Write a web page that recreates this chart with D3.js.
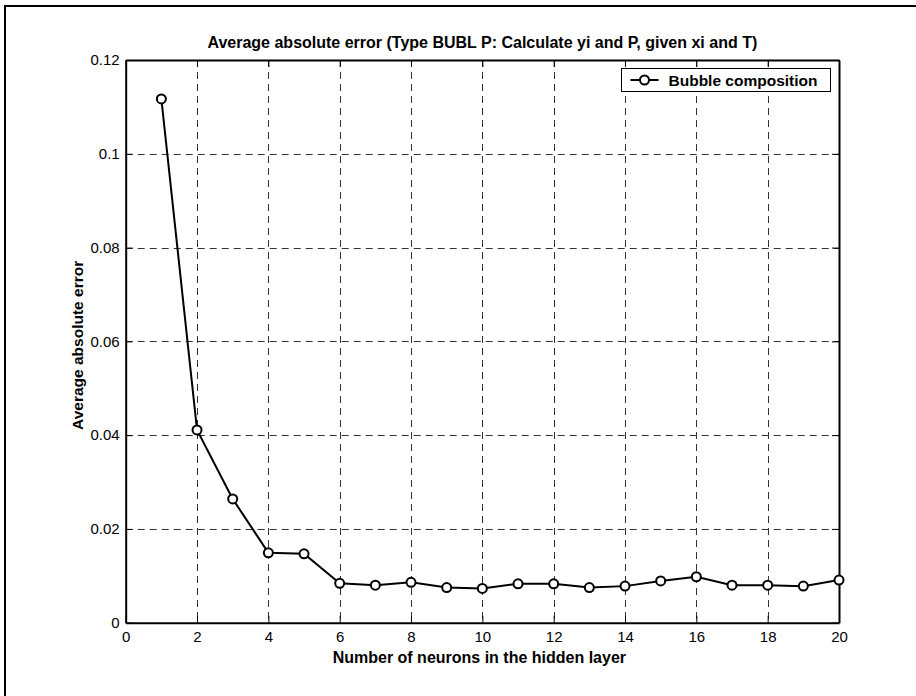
<!DOCTYPE html>
<html lang="en">
<head>
<meta charset="UTF-8">
<title>Average absolute error</title>
<script src="https://cdn.jsdelivr.net/npm/d3@7"></script>
<style>
  body { margin: 0; background: #fff; }
  svg text { font-family: "Liberation Sans", Arial, sans-serif; fill: #000; }
</style>
</head>
<body>
<div id="container"></div>
<script>
// neurons in hidden layer and the measured average absolute error
const neurons = [1, 2, 3, 4, 5, 6, 7, 8, 9, 10, 11, 12, 13, 14, 15, 16, 17, 18, 19, 20]
const avgError = [0.1117, 0.0411, 0.0264, 0.0149, 0.0147, 0.0084, 0.0080, 0.0086, 0.0075, 0.0073,
                  0.0083, 0.0083, 0.0075, 0.0078, 0.0089, 0.0098, 0.0080, 0.0080, 0.0078, 0.0091]
const xTicks = [0, 2, 4, 6, 8, 10, 12, 14, 16, 18, 20]
const yTicks = [0, 0.02, 0.04, 0.06, 0.08, 0.1, 0.12]
const seriesName = "Bubble composition"

const w = 916, h = 696
const m = { left: 125.7, right: 916 - 839, top: 60, bottom: 696 - 622.7 }

const svg = d3.select("#container").append("svg").attr("width", w).attr("height", h)

// outer frame (only left and top edges are inside the picture)
svg.append("path").attr("d", `M5,${h} V6 H${w}`).attr("fill", "none").attr("stroke", "#000").attr("stroke-width", 2)

const x = d3.scaleLinear([0, 20], [m.left, w - m.right])
const y = d3.scaleLinear([0, 0.12], [h - m.bottom, m.top])

// grid
const grid = svg.append("g").attr("stroke", "#333").attr("stroke-width", 1).attr("stroke-dasharray", "7,5")
grid.selectAll(".gx").data(xTicks.slice(1, -1)).join("line")
  .attr("x1", d => Math.round(x(d)) + 0.5).attr("x2", d => Math.round(x(d)) + 0.5)
  .attr("y1", y(0.12)).attr("y2", y(0))
grid.selectAll(".gy").data(yTicks.slice(1, -1)).join("line")
  .attr("y1", d => Math.round(y(d)) + 0.5).attr("y2", d => Math.round(y(d)) + 0.5)
  .attr("x1", x(0)).attr("x2", x(20))

// axes, MATLAB style: ticks pointing inward, box on
const tick = 7
const fmt = d => d === 0 ? "0" : String(d)
const xAx = svg.append("g").attr("transform", `translate(0,${y(0)})`)
  .call(d3.axisBottom(x).tickValues(xTicks).tickSizeInner(-tick).tickSizeOuter(0).tickPadding(9).tickFormat(fmt))
const yAx = svg.append("g").attr("transform", `translate(${x(0)},0)`)
  .call(d3.axisLeft(y).tickValues(yTicks).tickSizeInner(-tick).tickSizeOuter(0).tickPadding(6).tickFormat(fmt))
const xTop = svg.append("g").attr("transform", `translate(0,${y(0.12)})`)
  .call(d3.axisTop(x).tickValues(xTicks).tickSizeInner(-tick).tickSizeOuter(0).tickFormat(""))
const yRight = svg.append("g").attr("transform", `translate(${x(20)},0)`)
  .call(d3.axisRight(y).tickValues(yTicks).tickSizeInner(-tick).tickSizeOuter(0).tickFormat(""))
for (const a of [xAx, yAx, xTop, yRight]) {
  a.select(".domain").attr("stroke", "#000").attr("stroke-width", 2).attr("fill", "none")
  a.selectAll(".tick line").attr("stroke", "#000").attr("stroke-width", 1)
  a.selectAll(".tick text").attr("font-size", 15).attr("font-family", '"Liberation Sans", Arial, sans-serif')
}

// series
const pts = neurons.map((n, i) => [n, avgError[i]])
svg.append("path").datum(pts)
  .attr("fill", "none").attr("stroke", "#000").attr("stroke-width", 2)
  .attr("d", d3.line().x(d => x(d[0])).y(d => y(d[1])))
svg.selectAll(".pt").data(pts).join("circle")
  .attr("cx", d => x(d[0])).attr("cy", d => y(d[1])).attr("r", 4.5)
  .attr("fill", "#fff").attr("stroke", "#000").attr("stroke-width", 2)

// title and labels
svg.append("text").attr("x", (x(0) + x(20)) / 2).attr("y", 48).attr("text-anchor", "middle")
  .attr("font-size", 16).attr("font-weight", "bold")
  .text("Average absolute error (Type BUBL P: Calculate yi and P, given xi and T)")
svg.append("text").attr("x", (x(0) + x(20)) / 2 - 3).attr("y", 662.5).attr("text-anchor", "middle")
  .attr("font-size", 16).attr("font-weight", "bold").text("Number of neurons in the hidden layer")
svg.append("text").attr("transform", `translate(82.5,${(y(0) + y(0.12)) / 2 + 4}) rotate(-90)`)
  .attr("text-anchor", "middle").attr("font-size", 15.5).attr("font-weight", "bold").text("Average absolute error")

// legend
const lg = svg.append("g").attr("transform", "translate(621.5,68.5)")
lg.append("rect").attr("width", 209).attr("height", 23).attr("fill", "#fff").attr("stroke", "#000").attr("stroke-width", 1)
lg.append("line").attr("x1", 9).attr("x2", 37).attr("y1", 11.5).attr("y2", 11.5).attr("stroke", "#000").attr("stroke-width", 2)
lg.append("circle").attr("cx", 23).attr("cy", 11.5).attr("r", 4.5).attr("fill", "#fff").attr("stroke", "#000").attr("stroke-width", 2)
lg.append("text").attr("x", 47).attr("y", 17).attr("font-size", 15.5).attr("font-weight", "bold").text(seriesName)
</script>
</body>
</html>
